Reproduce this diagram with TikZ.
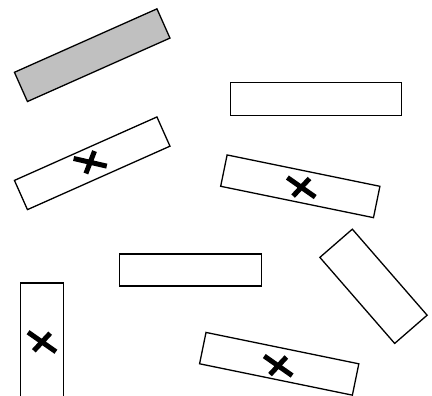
\documentclass[tikz,border=0pt]{standalone}
\usepackage{tikz}
\definecolor{boxgray}{HTML}{C0C0C0}

\begin{document}
\begin{tikzpicture}[
  x=1pt, y=1pt,
  bar/.style={rectangle, draw=black, line width=1.3pt, inner sep=0pt,
              minimum width=156pt, minimum height=32pt},
  stub/.style={bar, minimum width=114pt, minimum height=43pt},
  flat/.style={bar, minimum height=33pt},
  cross/.style={line width=5pt, color=black},
]
  \useasboundingbox (0,0) rectangle (432,396);
  \clip (0,0) rectangle (432,396);

  \node[bar, fill=boxgray, rotate=24] (shaded) at (92.2,340.8) {};
  \node[bar, rotate=24] (leftx) at (92.2,232.7) {};
  \node[flat, minimum width=171pt] (topbar) at (315.7,296.8) {};
  \node[bar, rotate=-11.6] (rightx) at (300.3,209.7) {};
  \node[flat, minimum width=142pt, minimum height=32pt] (midbar) at (190.3,126.1) {};
  \node[stub, rotate=90] (uprightx) at (42,56) {};
  \node[stub, rotate=-49] (tilted) at (373.5,109.7) {};
  \node[bar, rotate=-11.6] (bottomx) at (279.2,32.2) {};

  % crosses
  \foreach \n/\r/\dx/\dy in {leftx/22/-2/1, rightx/0/1/-1, uprightx/0/0/-2, bottomx/0/-1/-2}
    \draw[cross, shift={(\n.center)}, shift={(\dx,\dy)}, rotate=\r]
      (145:17) -- (-35:17) (227:12) -- (47:12);
\end{tikzpicture}
\end{document}
